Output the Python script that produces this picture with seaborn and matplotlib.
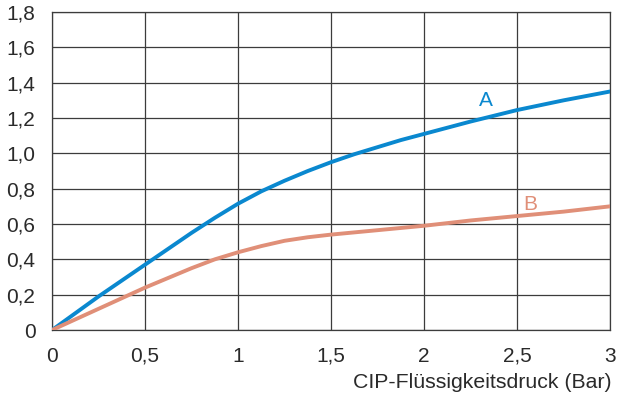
import numpy as np
import pandas as pd
import matplotlib
matplotlib.use("Agg")
import matplotlib.pyplot as plt
import seaborn as sns

# ── data ─────────────────────────────────────────────────────────────────────
pressure_a = [0, 0.125, 0.25, 0.375, 0.5, 0.625, 0.75, 0.875, 1.0, 1.125, 1.25,
              1.375, 1.5, 1.625, 1.75, 1.875, 2.0, 2.25, 2.5, 2.75, 3.0]
curve_a = [0, 0.095, 0.19, 0.28, 0.37, 0.46, 0.55, 0.635, 0.715, 0.785, 0.845,
           0.90, 0.95, 0.995, 1.035, 1.075, 1.11, 1.18, 1.245, 1.30, 1.35]
pressure_b = [0, 0.25, 0.5, 0.625, 0.75, 0.875, 1.0, 1.125, 1.25, 1.375, 1.5,
              1.75, 2.0, 2.25, 2.5, 2.75, 3.0]
curve_b = [0, 0.12, 0.24, 0.295, 0.35, 0.40, 0.44, 0.475, 0.505, 0.525, 0.54,
           0.565, 0.59, 0.62, 0.645, 0.67, 0.70]

x_ticks = [0, 0.5, 1, 1.5, 2, 2.5, 3]
x_tick_labels = ["0", "0,5", "1", "1,5", "2", "2,5", "3"]
y_ticks = [0, 0.2, 0.4, 0.6, 0.8, 1.0, 1.2, 1.4, 1.6, 1.8]
y_tick_labels = ["0", "0,2", "0,4", "0,6", "0,8", "1,0", "1,2", "1,4", "1,6", "1,8"]

COLOUR_A = "#0a88cf"
COLOUR_B = "#e08f78"
GRID = "#3c3c3c"
TEXT = "#2a2a2a"

df = pd.DataFrame({
    "druck": pressure_a + pressure_b,
    "wert": curve_a + curve_b,
    "kurve": ["A"] * len(pressure_a) + ["B"] * len(pressure_b),
})

sns.set_theme(style="white")
plt.rcParams["font.family"] = ["Liberation Sans", "DejaVu Sans"]

fig = plt.figure(figsize=(6.2, 4.0), dpi=100)
ax = fig.add_axes([0.084, 0.175, 0.9, 0.795])

sns.lineplot(data=df, x="druck", y="wert", hue="kurve",
             palette={"A": COLOUR_A, "B": COLOUR_B},
             linewidth=2.8, legend=False, ax=ax, zorder=3)

ax.set_xlim(0, 3)
ax.set_ylim(0, 1.8)
ax.set_xticks(x_ticks)
ax.set_xticklabels(x_tick_labels)
ax.set_yticks(y_ticks)
ax.set_yticklabels(y_tick_labels)
ax.tick_params(axis="both", labelsize=15, colors=TEXT, length=0)
ax.tick_params(axis="x", pad=12)
ax.tick_params(axis="y", pad=12)
ax.grid(True, color=GRID, linewidth=0.9)
for sp in ax.spines.values():
    sp.set_color(GRID)
    sp.set_linewidth(0.9)

ax.set_xlabel("")
ax.set_ylabel("")
fig.text(0.987, 0.043, "CIP-Flüssigkeitsdruck (Bar)", ha="right", va="center",
         fontsize=15.3, color=TEXT)

ax.text(2.33, 1.245, "A", color=COLOUR_A, fontsize=15, ha="center", va="bottom")
ax.text(2.57, 0.655, "B", color=COLOUR_B, fontsize=15, ha="center", va="bottom")

fig.savefig("out.png", dpi=100)
